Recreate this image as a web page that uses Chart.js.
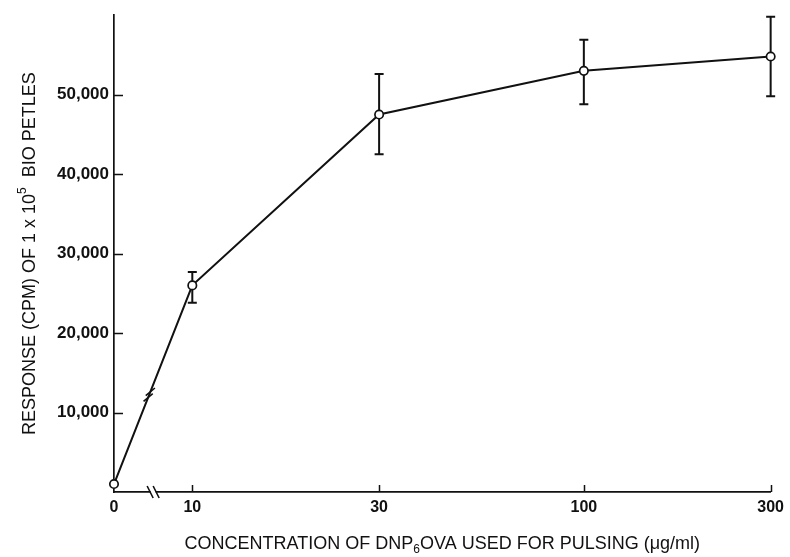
<!DOCTYPE html>
<html>
<head>
<meta charset="utf-8">
<script src="https://cdn.jsdelivr.net/npm/chart.js@4.4.0/dist/chart.umd.min.js"></script>
<style>
  html, body { margin: 0; padding: 0; background: #fff; }
  #c { display: block; }
</style>
</head>
<body>
<canvas id="c" width="790" height="557"></canvas>
<script>
// Antigen concentration used for pulsing (µg/ml)
const concentrations = [0, 10, 30, 100, 300];
// Mean response (cpm) of 1 x 10^5 cells
const responseCpm = [1000, 26000, 47500, 53000, 54800];
// Ends of each error bar (cpm)
const errorLow  = [1000, 23800, 42500, 48800, 49800];
const errorHigh = [1000, 27700, 52600, 56900, 59800];
// Axis tick labels and values
const xTickLabels = ['0', '10', '30', '100', '300'];
const yTickValues = [10000, 20000, 30000, 40000, 50000];

// The x axis is logarithmic from 10 upward; zero sits on a broken
// stretch of the axis just left of 10.
const ZERO_POS = 0.8;
const axisPos = c => (c === 0 ? ZERO_POS : Math.log10(c));

const FONT = "'Liberation Sans', Arial, Helvetica, sans-serif";
const INK = '#111';

// Inward tick marks on both axes
const innerTicks = {
  id: 'innerTicks',
  afterDraw(chart) {
    const { ctx, chartArea: a, scales: { x, y } } = chart;
    ctx.save();
    ctx.strokeStyle = INK;
    ctx.lineWidth = 1.5;
    ctx.beginPath();
    yTickValues.forEach(v => {
      const py = Math.round(y.getPixelForValue(v)) + 0.5;
      ctx.moveTo(a.left, py);
      ctx.lineTo(a.left + 9, py);
    });
    concentrations.forEach(c => {
      if (c === 0) return;
      const px = Math.round(x.getPixelForValue(axisPos(c))) + 0.5;
      ctx.moveTo(px, a.bottom);
      ctx.lineTo(px, a.bottom - 7);
    });
    ctx.stroke();
    ctx.restore();
  }
};

// Vertical error bars with short caps
const errorBars = {
  id: 'errorBars',
  beforeDatasetsDraw(chart) {
    const { ctx, scales: { x, y } } = chart;
    ctx.save();
    ctx.strokeStyle = INK;
    ctx.lineWidth = 2;
    concentrations.forEach((c, i) => {
      if (errorHigh[i] <= errorLow[i]) return;
      const px = x.getPixelForValue(axisPos(c));
      const top = y.getPixelForValue(errorHigh[i]);
      const bot = y.getPixelForValue(errorLow[i]);
      ctx.beginPath();
      ctx.moveTo(px, top); ctx.lineTo(px, bot);
      ctx.moveTo(px - 4.5, top); ctx.lineTo(px + 4.5, top);
      ctx.moveTo(px - 4.5, bot); ctx.lineTo(px + 4.5, bot);
      ctx.stroke();
    });
    ctx.restore();
  }
};

// Break marks on the first line segment and on the x axis
const breakMarks = {
  id: 'breakMarks',
  afterDatasetsDraw(chart) {
    const { ctx, chartArea: a, scales: { x } } = chart;
    const pts = chart.getDatasetMeta(0).data;
    ctx.save();
    ctx.strokeStyle = INK;
    ctx.lineWidth = 1.6;

    // on the line between the first two points
    const p0 = pts[0], p1 = pts[1];
    const t = 0.45;
    const bx = p0.x + (p1.x - p0.x) * t;
    const by = p0.y + (p1.y - p0.y) * t;
    const len = Math.hypot(p1.x - p0.x, p1.y - p0.y);
    const ux = (p1.x - p0.x) / len, uy = (p1.y - p0.y) / len;
    const ang = -40 * Math.PI / 180;
    const sx = Math.cos(ang) * 6, sy = Math.sin(ang) * 6;
    ctx.beginPath();
    [-3, 3].forEach(o => {
      const cx = bx + ux * o, cy = by + uy * o;
      ctx.moveTo(cx - sx, cy - sy);
      ctx.lineTo(cx + sx, cy + sy);
    });
    ctx.stroke();

    // on the x axis between zero and 10
    const ax = x.getPixelForValue((ZERO_POS + 1) / 2);
    const ay = a.bottom;
    ctx.fillStyle = '#fff';
    ctx.fillRect(ax - 2.5, ay - 2, 5, 4);
    ctx.beginPath();
    [-3, 3].forEach(o => {
      ctx.moveTo(ax + o - 3, ay - 6);
      ctx.lineTo(ax + o + 3, ay + 6);
    });
    ctx.stroke();
    ctx.restore();
  }
};

// Axis titles with super/subscripts
function drawRuns(ctx, runs, cx, baseline) {
  const widths = runs.map(r => { ctx.font = r.font; return ctx.measureText(r.text).width; });
  const total = widths.reduce((s, w) => s + w, 0);
  let px = cx - total / 2;
  runs.forEach((r, i) => {
    ctx.font = r.font;
    ctx.fillText(r.text, px, baseline + (r.dy || 0));
    px += widths[i];
  });
}

const axisTitles = {
  id: 'axisTitles',
  afterDraw(chart) {
    const { ctx, chartArea: a } = chart;
    const big = `18px ${FONT}`, small = `12px ${FONT}`;
    ctx.save();
    ctx.fillStyle = INK;
    ctx.textBaseline = 'alphabetic';
    ctx.textAlign = 'left';
    drawRuns(ctx, [
      { text: 'CONCENTRATION OF DNP', font: big },
      { text: '6', font: small, dy: 4 },
      { text: 'OVA USED FOR PULSING (\u03bcg/ml)', font: big }
    ], (a.left + a.right) / 2, 549);

    ctx.translate(35, (a.top + a.bottom) / 2);
    ctx.rotate(-Math.PI / 2);
    drawRuns(ctx, [
      { text: 'RESPONSE (CPM) OF 1 x 10', font: big },
      { text: '5', font: small, dy: -9 },
      { text: '  BIO PETLES', font: big }
    ], 0, 0);
    ctx.restore();
  }
};

new Chart(document.getElementById('c'), {
  type: 'line',
  data: {
    datasets: [{
      data: concentrations.map((c, i) => ({ x: axisPos(c), y: responseCpm[i] })),
      borderColor: INK,
      borderWidth: 2,
      pointRadius: 4.2,
      pointBorderWidth: 1.7,
      pointBackgroundColor: '#fff',
      pointBorderColor: INK,
      tension: 0,
      clip: false
    }]
  },
  options: {
    responsive: false,
    animation: false,
    devicePixelRatio: 1,
    layout: { padding: { top: 9, right: 18, bottom: 0, left: 0 } },
    plugins: { legend: { display: false }, tooltip: { enabled: false } },
    scales: {
      x: {
        type: 'linear',
        min: ZERO_POS,
        max: axisPos(concentrations[concentrations.length - 1]),
        border: { display: true, color: INK, width: 1.7 },
        grid: { display: false, drawTicks: false },
        afterBuildTicks(s) { s.ticks = concentrations.map(c => ({ value: axisPos(c) })); },
        afterFit(s) { s.height = 65; },
        ticks: {
          autoSkip: false,
          maxRotation: 0,
          padding: 6,
          color: INK,
          font: { family: FONT, size: 16, weight: 'bold' },
          callback: (v, i) => xTickLabels[i]
        }
      },
      y: {
        type: 'linear',
        min: 0,
        max: 60000,
        border: { display: true, color: INK, width: 1.7 },
        grid: { display: false, drawTicks: false },
        afterBuildTicks(s) { s.ticks = yTickValues.map(v => ({ value: v })); },
        afterFit(s) { s.width = 114; },
        ticks: {
          padding: 5,
          color: INK,
          font: { family: FONT, size: 17, weight: 'bold' },
          callback: v => v.toLocaleString('en-US')
        }
      }
    }
  },
  plugins: [errorBars, breakMarks, innerTicks, axisTitles]
});
</script>
</body>
</html>
